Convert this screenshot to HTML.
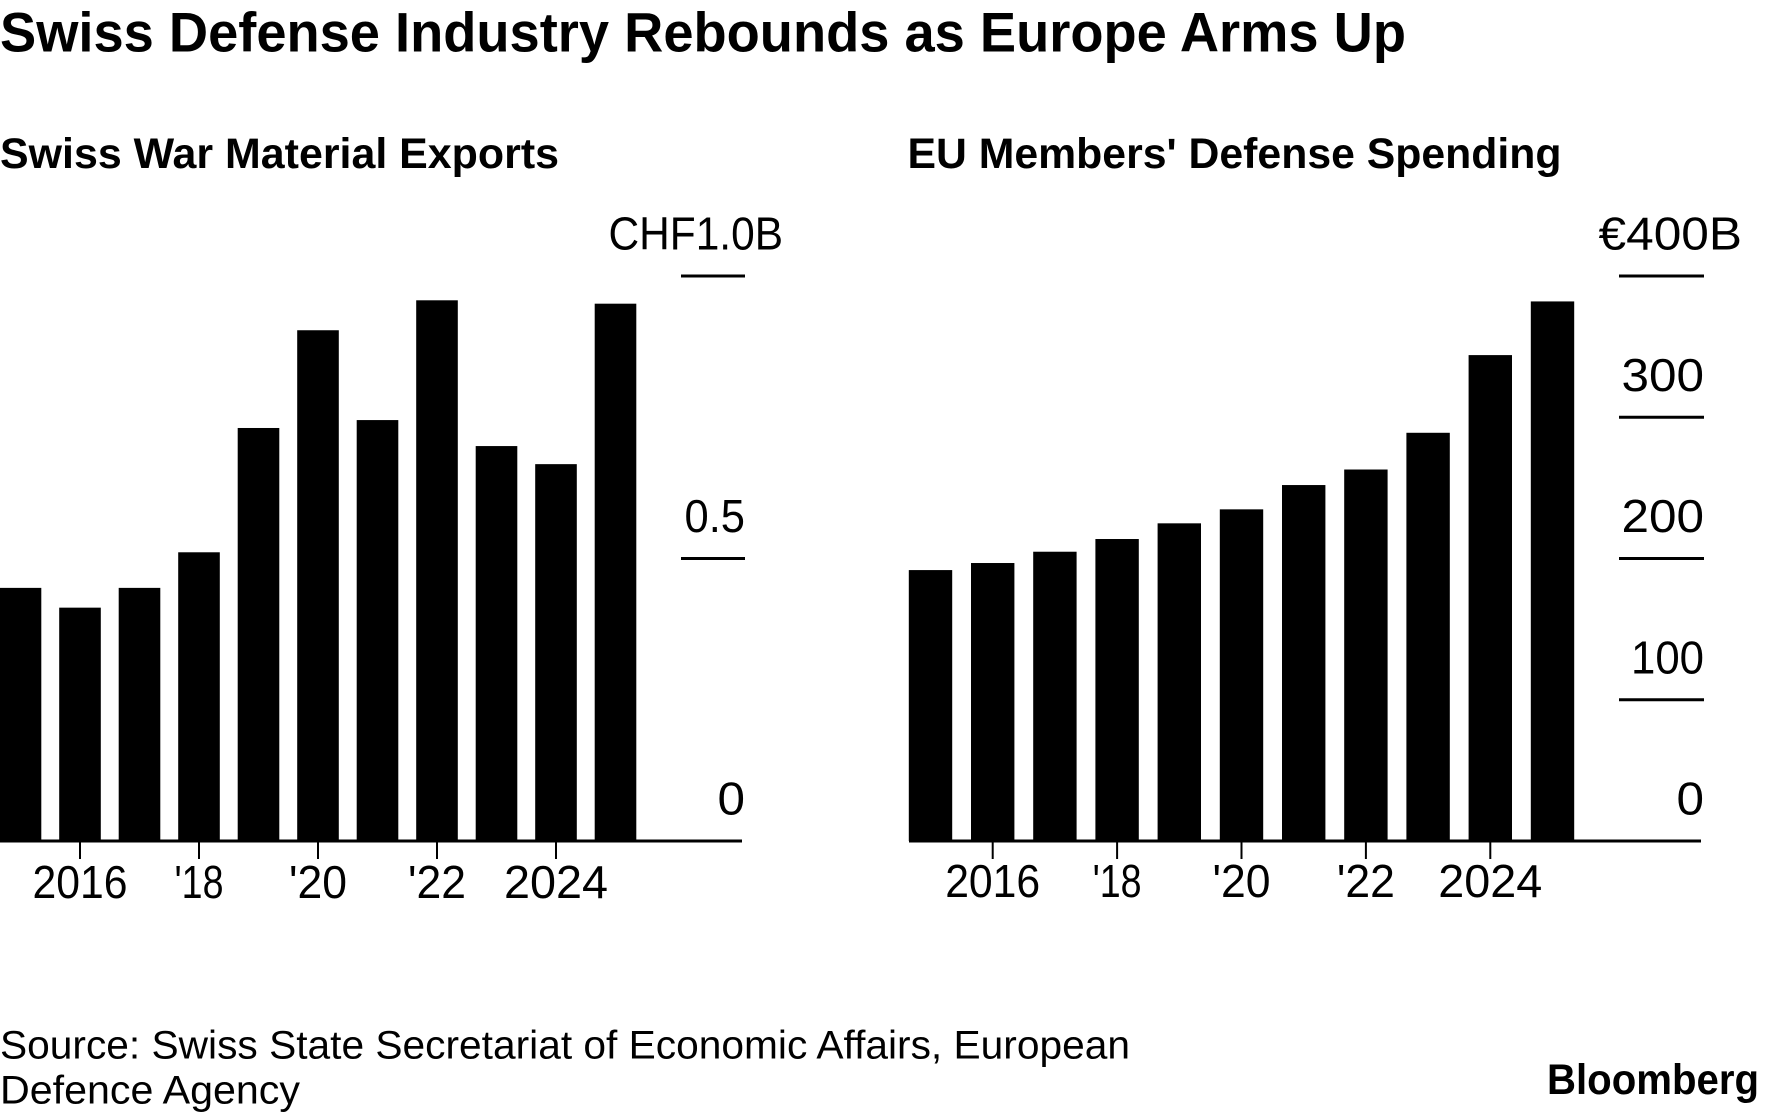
<!DOCTYPE html>
<html lang="en">
<head>
<meta charset="utf-8">
<title>Swiss Defense Industry Rebounds as Europe Arms Up</title>
<style>
html,body{margin:0;padding:0;background:#fff;width:1776px;height:1113px;overflow:hidden}
svg{display:block}
text{font-family:"Liberation Sans",Arial,sans-serif;fill:#000}
.b{font-weight:700}
.tick{font-size:46px}
.src{font-size:40px}
</style>
</head>
<body>
<svg id="chart" width="1776" height="1113" viewBox="0 0 1776 1113" xmlns="http://www.w3.org/2000/svg">
  <rect x="0" y="0" width="1776" height="1113" fill="#fff"/>
  <text class="b" x="0" y="51.5" font-size="56" textLength="1406" lengthAdjust="spacingAndGlyphs">Swiss Defense Industry Rebounds as Europe Arms Up</text>
  <text class="b" x="0" y="168" font-size="43" textLength="559" lengthAdjust="spacingAndGlyphs">Swiss War Material Exports</text>
  <text class="b" x="907.5" y="168" font-size="43" textLength="654" lengthAdjust="spacingAndGlyphs">EU Members' Defense Spending</text>
  <g id="left-panel"></g>
  <g id="right-panel"></g>
  <text class="src" x="0" y="1058.5" textLength="1130" lengthAdjust="spacingAndGlyphs">Source: Swiss State Secretariat of Economic Affairs, European</text>
  <text class="src" x="0" y="1103.5" textLength="300" lengthAdjust="spacingAndGlyphs">Defence Agency</text>
  <text class="b" x="1547" y="1094" font-size="43" textLength="212" lengthAdjust="spacingAndGlyphs">Bloomberg</text>
</svg>
<script>
const years = [2015, 2016, 2017, 2018, 2019, 2020, 2021, 2022, 2023, 2024, 2025];
const exportsValues = [0.448, 0.413, 0.448, 0.511, 0.731, 0.904, 0.745, 0.957, 0.699, 0.667, 0.951];
const spendingValues = [191.8, 196.8, 204.8, 213.8, 224.9, 234.8, 252, 263, 289, 344, 382];
const xTickYears = [2016, 2018, 2020, 2022, 2024];
const xTickLabels = ['2016', "'18", "'20", "'22", '2024'];
const exportsTickValues = [1, 0.5, 0];
const exportsTickLabels = ['CHF1.0B', '0.5', '0'];
const spendingTickValues = [400, 300, 200, 100, 0];
const spendingTickLabels = ['€400B', '300', '200', '100', '0'];

const NS = 'http://www.w3.org/2000/svg';
const BASELINE = 841;
const PLOT_HEIGHT = 565;

function make(parent, tag, attrs) {
  const el = document.createElementNS(NS, tag);
  for (const k in attrs) el.setAttribute(k, attrs[k]);
  parent.appendChild(el);
  return el;
}

function xLabelWidth(s) {
  let w = 0;
  for (const c of s) {
    if (c === "'") w += 6;
    else if (c === '1') w += 17;
    else w += 26;
  }
  return w;
}

function yLabelWidth(s) {
  let w = 0;
  for (const c of s) {
    if (c === '.') w += 5.5;
    else if (c === '1') w += 18;
    else if (c === 'C' || c === 'H' || c === 'B') w += 31;
    else if (c === 'F') w += 30.5;
    else if (c === '€') w += 30;
    else w += 27.5;
  }
  return w;
}

function drawPanel(cfg) {
  const g = document.getElementById(cfg.id);
  const xScale = function (year) { return cfg.x0 + (year - years[0]) * cfg.step; };
  const yScale = function (value) { return BASELINE - value / cfg.yMax * PLOT_HEIGHT; };

  cfg.values.forEach(function (value, i) {
    const top = yScale(value);
    const bar = make(g, 'rect', {
      x: xScale(years[i]) - cfg.barWidth / 2,
      y: top,
      width: cfg.barWidth,
      height: BASELINE - top,
      fill: '#000'
    });
    
    
  });

  const axis = make(g, 'line', {
    x1: cfg.axisStart, x2: cfg.axisEnd, y1: BASELINE, y2: BASELINE,
    stroke: '#000', 'stroke-width': 3
  });
  
  

  xTickYears.forEach(function (year, i) {
    const x = xScale(year);
    const tick = make(g, 'line', {
      x1: x, x2: x, y1: BASELINE, y2: 859,
      stroke: '#000', 'stroke-width': 2
    });
    
    
    const label = make(g, 'text', {
      x: x, y: cfg.xLabelY, 'text-anchor': 'middle', class: 'tick',
      textLength: xLabelWidth(xTickLabels[i]), lengthAdjust: 'spacingAndGlyphs'
    });
    label.textContent = xTickLabels[i];
    
    
  });

  cfg.tickValues.forEach(function (value, i) {
    const y = yScale(value);
    if (value !== 0) {
      const grid = make(g, 'line', {
        x1: cfg.tickStart, x2: cfg.tickEnd, y1: y, y2: y,
        stroke: '#000', 'stroke-width': 3
      });
      
      
    }
    const text = cfg.tickLabels[i];
    const isTop = i === 0;
    const label = make(g, 'text', {
      x: isTop ? cfg.topLabelEnd : cfg.tickEnd,
      y: y - 26.5,
      'text-anchor': 'end', class: 'tick',
      textLength: yLabelWidth(text), lengthAdjust: 'spacingAndGlyphs'
    });
    label.textContent = text;
    
    
  });
}

drawPanel({
  id: 'left-panel', values: exportsValues, tickValues: exportsTickValues, tickLabels: exportsTickLabels,
  x0: 20.5, step: 59.5, barWidth: 41.6, yMax: 1,
  axisStart: 0, axisEnd: 742, tickStart: 681, tickEnd: 745, topLabelEnd: 783, xLabelY: 898
});
drawPanel({
  id: 'right-panel', values: spendingValues, tickValues: spendingTickValues, tickLabels: spendingTickLabels,
  x0: 930.5, step: 62.2, barWidth: 43.4, yMax: 400,
  axisStart: 909, axisEnd: 1701, tickStart: 1619, tickEnd: 1704, topLabelEnd: 1742, xLabelY: 897
});
</script>
</body>
</html>
